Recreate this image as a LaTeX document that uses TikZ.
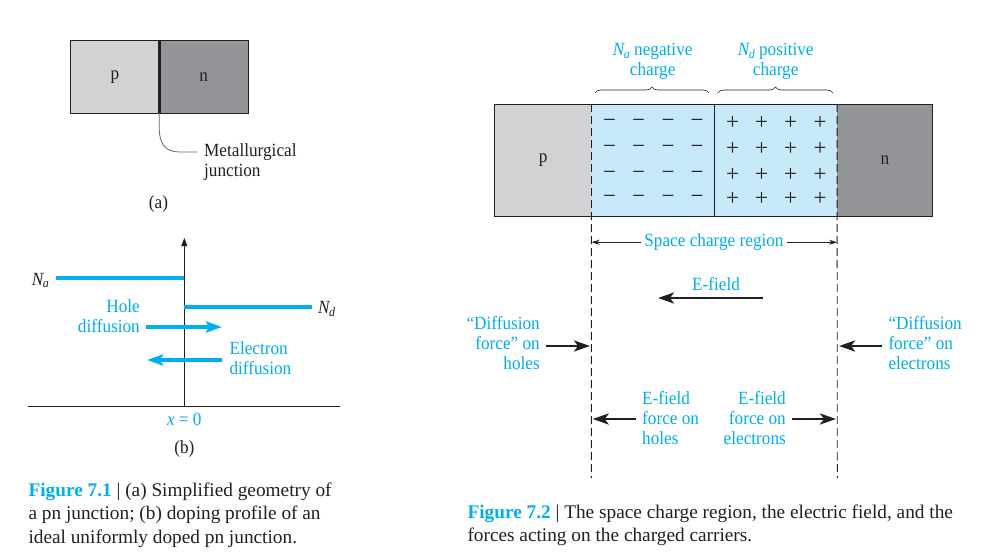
\documentclass[tikz,border=0pt]{standalone}
\usepackage{fontspec}
\setmainfont{Liberation Serif}
\newfontfamily\lblfam{Liberation Serif}[FakeStretch=0.925]
\usetikzlibrary{arrows.meta,decorations.pathreplacing}
\definecolor{cyanc}{HTML}{00AEEF}
\definecolor{sclblue}{HTML}{C8E9FA}
\definecolor{pgray}{HTML}{D1D2D4}
\definecolor{ngray}{HTML}{939598}
\definecolor{inkc}{HTML}{231F20}
\newcommand\lblsize{\lblfam\fontsize{18.6}{20}\selectfont}
\newcommand\capsize{\fontsize{19.3}{23.6}\selectfont}
\newcommand\subsc[1]{\raisebox{-0.35ex}{\fontsize{13}{13}\selectfont\itshape #1}}
\newcommand\Nx[1]{{\itshape N}\kern-0.5pt\subsc{#1}}
\tikzset{
  lbl/.style={font=\lblsize, text=cyanc, inner sep=0pt},
  blk/.style={font=\lblsize, text=inkc, inner sep=0pt},
  region/.style={inner sep=0pt, font=\lblsize, text=inkc},
  sgn/.style={font=\fontsize{23}{23}\selectfont, text=inkc, inner sep=0pt},
  bigarrow/.style={draw=inkc, line width=2.8pt, -{Stealth[length=16pt,width=11pt,inset=4pt]}},
  cyarrow/.style={draw=cyanc, line width=3.5pt, -{Stealth[length=16pt,width=11pt,inset=3pt]}},
  thinarrow/.style={draw=inkc, line width=0.8pt, -{Stealth[length=8pt,width=5pt]}},
  dashline/.style={draw=inkc, line width=0.9pt, dash pattern=on 8pt off 4pt},
  outline/.style={draw=inkc, line width=0.9pt},
  capt/.style={font=\capsize, text=inkc, inner sep=0pt, align=left},
  dopeline/.style={draw=cyanc, line width=4.5pt},
  bracestyle/.style={draw=inkc, line width=0.6pt, decorate, decoration={brace, amplitude=6pt}}
}
\begin{document}
\begin{tikzpicture}[x=1pt,y=-1pt]
\fill[white] (0,0) rectangle (1004,558);
\path[use as bounding box] (0,0) rectangle (1004,558);

% ---------------- Figure 7.1 (a)
\node[region, fill=pgray, minimum width=88pt, minimum height=72pt] (pA) at (115,77) {p};
\node[region, fill=ngray, minimum width=89.5pt, minimum height=72pt] (nA) at (203.75,77) {n};
\draw[outline] (pA.north west) rectangle (nA.south east);
\draw[draw=inkc, line width=3pt] (pA.north east) -- (pA.south east);
\coordinate (mjEnd) at (197,152);
\draw[draw=black!60, line width=0.8pt] (pA.south east) -- ++(0,13) .. controls (159,145) and (166,152) .. (180,152) -- (mjEnd);
% base anchor of a multi-line node = baseline of its last line
\node[blk, anchor=base west, align=left] (mj) at (204,176.7) {Metallurgical\\junction};
\node[blk, anchor=base] (capA) at (158.5,208) {(a)};

% ---------------- Figure 7.1 (b)
\coordinate (O) at (184.3,406);
\coordinate (axTop) at (184.3,238);
\coordinate (axL) at (28,406);
\coordinate (axR) at (340,406);
\draw[draw=inkc, line width=0.9pt] (axL) -- (axR);
\draw[draw=inkc, line width=0.9pt, -{Triangle[length=8pt,width=6pt]}] (O) -- (axTop);
\coordinate (naS) at (56,278);
\coordinate (naE) at (184.3,278);
\coordinate (ndS) at (184.3,307);
\coordinate (ndE) at (312,307);
\draw[dopeline] (naS) -- (naE);
\draw[dopeline] (ndS) -- (ndE);
\node[blk, anchor=base west] (naLbl) at (31.7,285) {\Nx{a}};
\node[blk, anchor=base west] (ndLbl) at (318,313.3) {\Nx{d}};
\node[lbl, anchor=base east, align=right] (holeLbl) at (140,332.7) {Hole\\diffusion};
\node[lbl, anchor=base west, align=left] (elLbl) at (229.3,374) {Electron\\diffusion};
\coordinate (hS) at (146,327);
\coordinate (hE) at (222,327);
\coordinate (eS) at (222,360);
\coordinate (eE) at (147,360);
\draw[cyarrow] (hS) -- (hE);
\draw[cyarrow] (eS) -- (eE);
\node[lbl, anchor=base] (x0) at (184.3,425) {\textit{x} = 0};
\node[blk, anchor=base] (capB) at (184.3,453) {(b)};

% ---------------- Figure 7.2
\node[region, fill=pgray, minimum width=96.3pt, minimum height=111.7pt] (pR) at (543.15,160.15) {p};
\node[region, fill=sclblue, minimum width=246pt, minimum height=111.7pt] (scr) at (714.3,160.15) {};
\node[region, fill=ngray, minimum width=95.4pt, minimum height=111.7pt] (nR) at (885,160.15) {n};
\draw[outline] (pR.north west) rectangle (nR.south east);
\draw[outline] (scr.north) -- (scr.south);
\coordinate (dL) at (591.3,478);
\coordinate (dR) at (837.3,478);
\draw[dashline] (pR.north east) -- (dL);
\draw[dashline] (nR.north west) -- (dR);

\foreach \x [count=\i] in {609.7,638.7,668,697}
  \foreach \y [count=\j] in {123.3,149.3,175,199.3}
    \node[sgn] (m-\i-\j) at (\x,\y) {−};
\foreach \x [count=\i] in {732.7,761.7,790.7,820}
  \foreach \y [count=\j] in {123.3,149.3,175,199.3}
    \node[sgn] (pl-\i-\j) at (\x,\y) {+};

\coordinate (b1S) at (595,93);
\coordinate (b1E) at (709,93);
\coordinate (b2S) at (718,93);
\coordinate (b2E) at (833,93);
\draw[bracestyle] (b1S) -- (b1E);
\draw[bracestyle] (b2S) -- (b2E);
\node[lbl, anchor=base, align=center] (negLbl) at (652.7,75.7) {\Nx{a} negative\\charge};
\node[lbl, anchor=base, align=center] (posLbl) at (775.7,75.7) {\Nx{d} positive\\charge};

\node[lbl, anchor=base, inner xsep=3pt] (scrLbl) at (714,246.7) {Space charge region};
\draw[thinarrow] (scrLbl.west) -- (scrLbl.west -| pR.east);
\draw[thinarrow] (scrLbl.east) -- (scrLbl.east -| nR.west);

\node[lbl, anchor=base] (efLbl) at (716,290) {E-field};
\coordinate (efS) at (762.7,298);
\coordinate (efE) at (658,298);
\draw[bigarrow] (efS) -- (efE);

\node[lbl, anchor=base east, align=right] (dfH) at (540,369) {“Diffusion\\force” on\\holes};
\node[lbl, anchor=base west, align=left] (dfE) at (888.3,369) {“Diffusion\\force” on\\electrons};
\coordinate (dhS) at (546,346);
\coordinate (dhE) at (590,346);
\coordinate (deS) at (881.7,346);
\coordinate (deE) at (839,346);
\draw[bigarrow] (dhS) -- (dhE);
\draw[bigarrow] (deS) -- (deE);

\node[lbl, anchor=base west, align=left] (efH) at (642,444) {E-field\\force on\\holes};
\node[lbl, anchor=base east, align=right] (efEl) at (786,444) {E-field\\force on\\electrons};
\coordinate (fhS) at (635.7,419);
\coordinate (fhE) at (592.7,419);
\coordinate (feS) at (792,419);
\coordinate (feE) at (836,419);
\draw[bigarrow] (fhS) -- (fhE);
\draw[bigarrow] (feS) -- (feE);

% ---------------- Captions
\node[capt, anchor=base west] (cap1) at (28.3,543.3) {{\bfseries\color{cyanc}Figure 7.1} | (a) Simplified geometry of\\a pn junction; (b) doping profile of an\\ideal uniformly doped pn junction.};
\node[capt, anchor=base west] (cap2) at (467.3,541.7) {{\bfseries\color{cyanc}Figure 7.2} | The space charge region, the electric field, and the\\forces acting on the charged carriers.};
\end{tikzpicture}
\end{document}
